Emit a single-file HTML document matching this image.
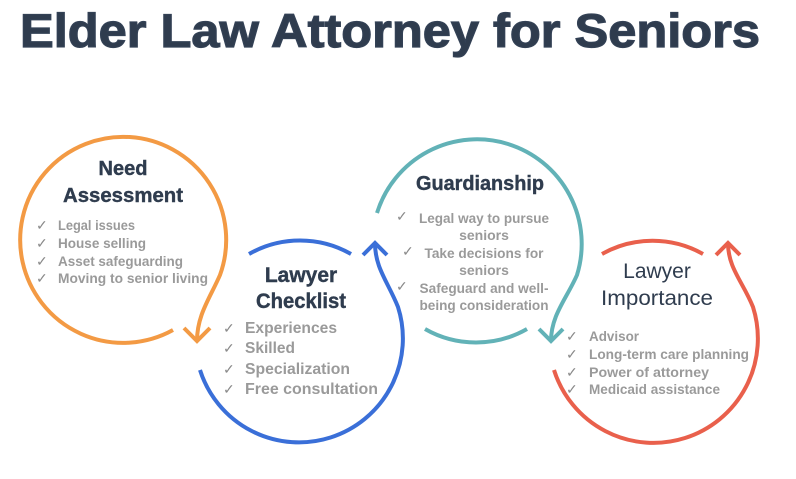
<!DOCTYPE html>
<html><head><meta charset="utf-8"><style>
html,body{margin:0;padding:0;background:#fff;}
svg{display:block;}
text{font-family:"Liberation Sans",sans-serif;}
.h{font-weight:bold;fill:#2f3c4e;}
.b{font-weight:bold;fill:#9a9a9a;}
.c{fill:#8a8a8a;font-size:14px;}
</style></head><body>
<svg width="796" height="479" viewBox="0 0 796 479" xmlns="http://www.w3.org/2000/svg">
<text x="20" y="47" class="h" font-size="47" fill="#334155" stroke="#334155" stroke-width="1.2" textLength="740" lengthAdjust="spacingAndGlyphs">Elder Law Attorney for Seniors</text>
<g fill="none" stroke-width="4" stroke-linecap="butt">
<path d="M173,330 A103,103 0 1 1 220,275 C210,298 197,315 197,341" stroke="#f39a44"/>
<path d="M184,328 L197,341 L210,328" stroke="#f39a44"/>
<path d="M249,254 A103,103 0 0 1 351,254" stroke="#3a6fd8"/>
<path d="M200,370 A103,103 0 1 0 398,307 C388,282 375,268 375,243" stroke="#3a6fd8"/>
<path d="M363,255 L375,243 L387,255" stroke="#3a6fd8"/>
<path d="M377,213 A103,103 0 1 1 577,275 C567,298 551,315 551,341" stroke="#62b2b7"/>
<path d="M425,329 A103,103 0 0 0 527,329" stroke="#62b2b7"/>
<path d="M539,329 L551,341 L563,329" stroke="#62b2b7"/>
<path d="M602,254 A103,103 0 0 1 703,254" stroke="#e9604c"/>
<path d="M554,370 A103,103 0 1 0 753,307 C743,282 728,268 728,243" stroke="#e9604c"/>
<path d="M716,255 L728,243 L740,255" stroke="#e9604c"/>
</g>
<text x="123" y="175" class="h" font-size="20" text-anchor="middle" stroke="#2f3c4e" stroke-width="0.4">Need</text>
<text x="123" y="202" class="h" font-size="20" text-anchor="middle" stroke="#2f3c4e" stroke-width="0.4" textLength="120" lengthAdjust="spacingAndGlyphs">Assessment</text>
<g class="c"><text x="36" y="230">✓</text><text x="36" y="248">✓</text><text x="36" y="266">✓</text><text x="36" y="283">✓</text></g>
<text x="58" y="230" class="b" font-size="14" textLength="77" lengthAdjust="spacingAndGlyphs">Legal issues</text>
<text x="58" y="248" class="b" font-size="14" textLength="88" lengthAdjust="spacingAndGlyphs">House selling</text>
<text x="58" y="266" class="b" font-size="14" textLength="125" lengthAdjust="spacingAndGlyphs">Asset safeguarding</text>
<text x="58" y="283" class="b" font-size="14" textLength="150" lengthAdjust="spacingAndGlyphs">Moving to senior living</text>
<text x="301" y="282" class="h" font-size="21" text-anchor="middle" stroke="#2f3c4e" stroke-width="0.4">Lawyer</text>
<text x="301" y="308" class="h" font-size="21" text-anchor="middle" stroke="#2f3c4e" stroke-width="0.4" textLength="90" lengthAdjust="spacingAndGlyphs">Checklist</text>
<g class="c" font-size="15"><text x="223" y="333">✓</text><text x="223" y="353">✓</text><text x="223" y="374">✓</text><text x="223" y="394">✓</text></g>
<text x="245" y="333" class="b" font-size="16" textLength="92" lengthAdjust="spacingAndGlyphs">Experiences</text>
<text x="245" y="353" class="b" font-size="16" textLength="50" lengthAdjust="spacingAndGlyphs">Skilled</text>
<text x="245" y="374" class="b" font-size="16" textLength="105" lengthAdjust="spacingAndGlyphs">Specialization</text>
<text x="245" y="394" class="b" font-size="16" textLength="133" lengthAdjust="spacingAndGlyphs">Free consultation</text>
<text x="480" y="190" class="h" font-size="20" text-anchor="middle" stroke="#2f3c4e" stroke-width="0.4" textLength="128" lengthAdjust="spacingAndGlyphs">Guardianship</text>
<g class="c"><text x="396" y="221">✓</text><text x="402" y="256">✓</text><text x="396" y="291">✓</text></g>
<text x="484" y="223" class="b" font-size="14" text-anchor="middle" textLength="130" lengthAdjust="spacingAndGlyphs">Legal way to pursue</text>
<text x="484" y="240" class="b" font-size="14" text-anchor="middle">seniors</text>
<text x="484" y="258" class="b" font-size="14" text-anchor="middle" textLength="119" lengthAdjust="spacingAndGlyphs">Take decisions for</text>
<text x="484" y="275" class="b" font-size="14" text-anchor="middle">seniors</text>
<text x="484" y="293" class="b" font-size="14" text-anchor="middle" textLength="129" lengthAdjust="spacingAndGlyphs">Safeguard and well-</text>
<text x="484" y="310" class="b" font-size="14" text-anchor="middle" textLength="129" lengthAdjust="spacingAndGlyphs">being consideration</text>
<text x="657" y="278" font-size="21" fill="#2f3c4e" text-anchor="middle">Lawyer</text>
<text x="657" y="305" font-size="21" fill="#2f3c4e" text-anchor="middle" textLength="112" lengthAdjust="spacingAndGlyphs">Importance</text>
<g class="c"><text x="566" y="341">✓</text><text x="566" y="359">✓</text><text x="566" y="377">✓</text><text x="566" y="394">✓</text></g>
<text x="589" y="341" class="b" font-size="14" textLength="50" lengthAdjust="spacingAndGlyphs">Advisor</text>
<text x="589" y="359" class="b" font-size="14" textLength="160" lengthAdjust="spacingAndGlyphs">Long-term care planning</text>
<text x="589" y="377" class="b" font-size="14" textLength="120" lengthAdjust="spacingAndGlyphs">Power of attorney</text>
<text x="589" y="394" class="b" font-size="14" textLength="131" lengthAdjust="spacingAndGlyphs">Medicaid assistance</text>
</svg>
</body></html>
